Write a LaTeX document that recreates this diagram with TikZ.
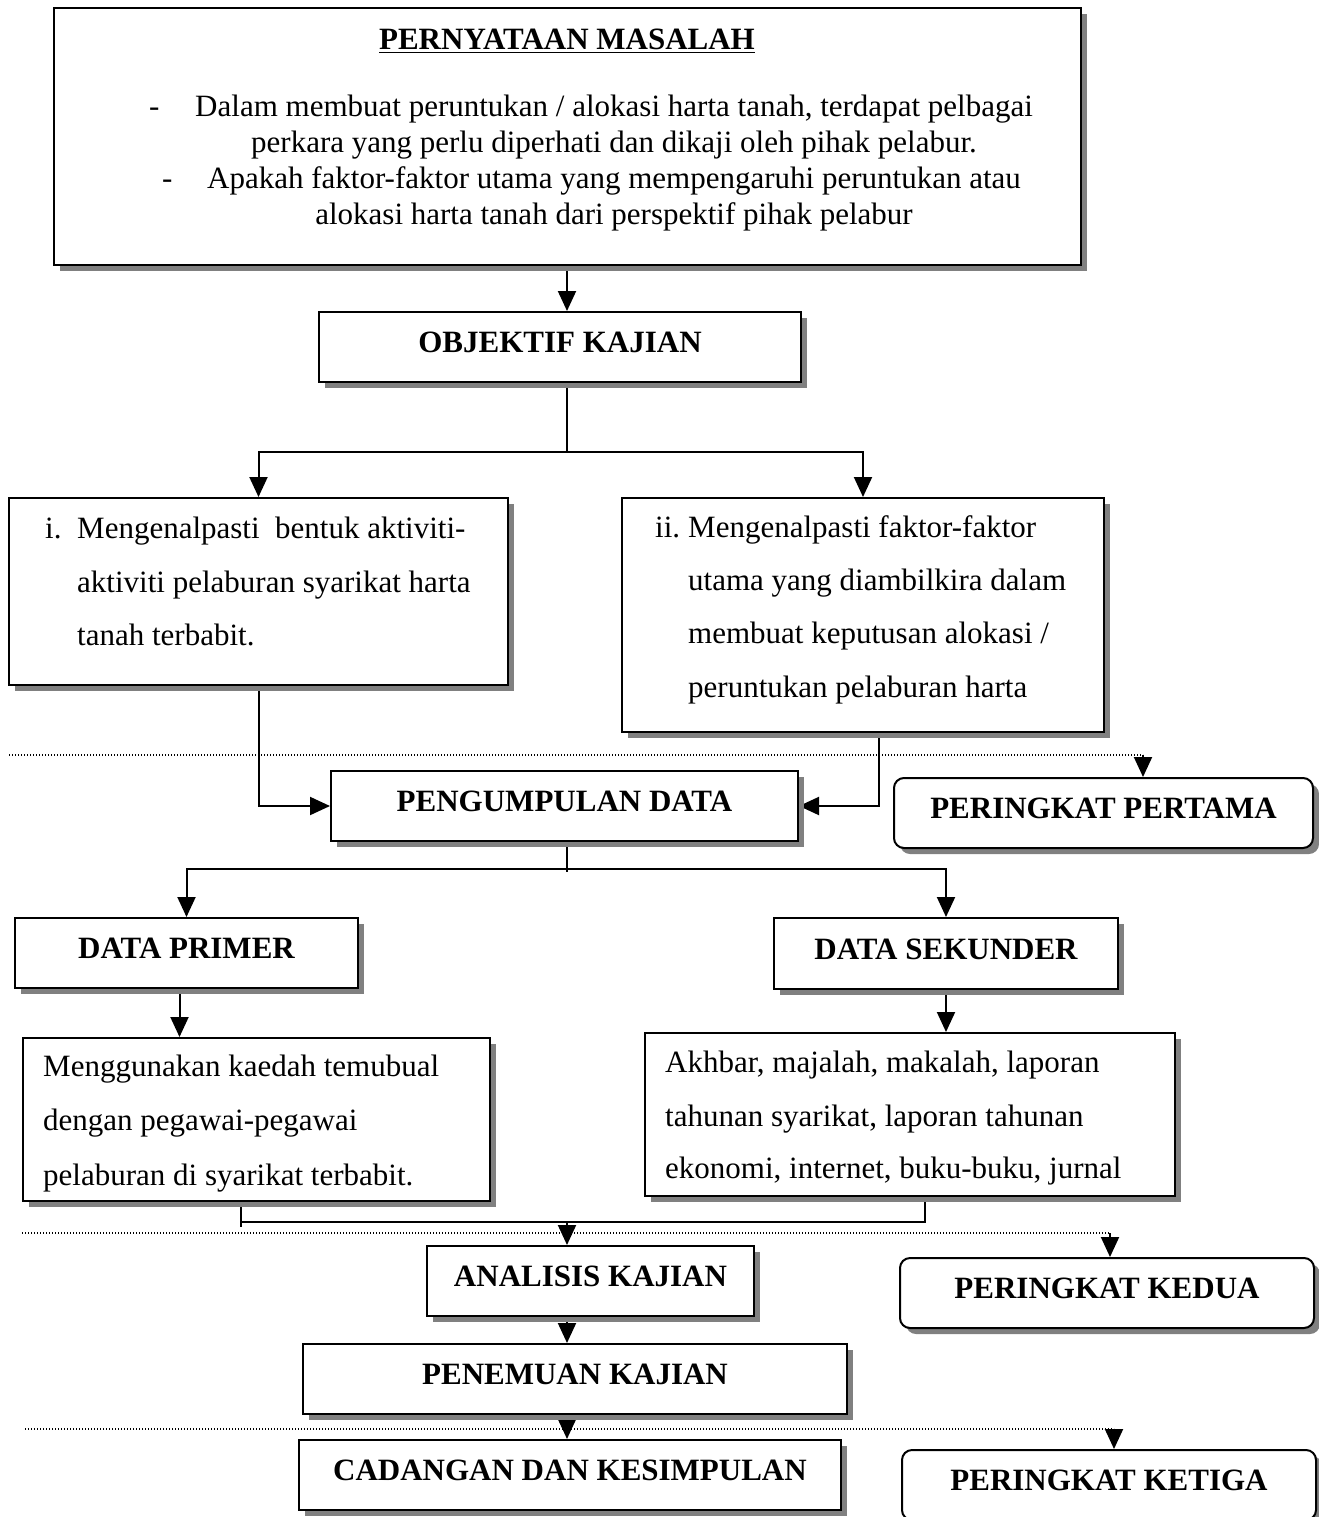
\documentclass[tikz,border=0pt]{standalone}
\usepackage{fontspec}
\setmainfont{Liberation Serif}
\usetikzlibrary{arrows.meta,shadows,backgrounds,calc}

\begin{document}
\begin{tikzpicture}[x=1pt,y=-1pt,
  every node/.style={inner sep=0pt},
  shbox/.style={draw, line width=2pt, fill=white,
    drop shadow={shadow xshift=6pt, shadow yshift=-6pt, opacity=1, fill=black!50}},
  hbox/.style={shbox, font=\bfseries\fontsize{31}{36}\selectfont, text height=21pt, text depth=10pt},
  rbox/.style={hbox, rounded corners=10pt},
  body/.style={font=\fontsize{31}{36}\selectfont, anchor=base west},
  bodyc/.style={font=\fontsize{31}{36}\selectfont, anchor=base},
  conn/.style={line width=2pt},
  arr/.style={conn, -{Triangle[width=18pt,length=20pt]}},
  dots/.style={line width=1.2pt, dash pattern=on 1.2pt off 1.8pt},
]
\useasboundingbox (0,0) rectangle (1319,1517);

% ---- boxes ----
\node[shbox, minimum width=1027pt, minimum height=257pt] (b1) at (567.5,136.5) {};
\node[font=\bfseries\fontsize{31}{36}\selectfont, anchor=base] (title) at (567,50) {\underline{PERNYATAAN MASALAH}};
\node[body] (d1) at (149,117) {-};
\node[bodyc] (l1) at (614,117) {Dalam membuat peruntukan / alokasi harta tanah, terdapat pelbagai};
\node[bodyc] (l2) at (614,153) {perkara yang perlu diperhati dan dikaji oleh pihak pelabur.};
\node[body] (d2) at (162,189) {-};
\node[bodyc] (l3) at (614,189) {Apakah faktor-faktor utama yang mempengaruhi peruntukan atau};
\node[bodyc] (l4) at (614,225) {alokasi harta tanah dari perspektif pihak pelabur};

\node[hbox, minimum width=482pt, minimum height=70pt] (obj) at (560,347) {OBJEKTIF KAJIAN};

\node[shbox, minimum width=499pt, minimum height=187pt] (bi) at (258.5,591.5) {};
\node[body] (bi0) at (45,538) {i.};
\node[body] (bi1) at (77,538) {Mengenalpasti\ \ bentuk aktiviti-};
\node[body] (bi2) at (77,592) {aktiviti pelaburan syarikat harta};
\node[body] (bi3) at (77,645) {tanah terbabit.};

\node[shbox, minimum width=482pt, minimum height=234pt] (bii) at (863,615) {};
\node[body] (bii0) at (655,537) {ii.};
\node[body] (bii1) at (688,537) {Mengenalpasti faktor-faktor};
\node[body] (bii2) at (688,590) {utama yang diambilkira dalam};
\node[body] (bii3) at (688,643) {membuat keputusan alokasi /};
\node[body] (bii4) at (688,697) {peruntukan pelaburan harta};

\node[hbox, minimum width=467pt, minimum height=70pt] (peng) at (564.5,806) {PENGUMPULAN DATA};
\node[rbox, minimum width=419pt, minimum height=70pt] (pert) at (1103.5,813) {PERINGKAT PERTAMA};

\node[hbox, minimum width=343pt, minimum height=70pt] (prim) at (186.5,953) {DATA PRIMER};
\node[hbox, minimum width=344pt, minimum height=71pt] (sek) at (946,953.5) {DATA SEKUNDER};

\node[shbox, minimum width=467pt, minimum height=163pt] (pt) at (256.5,1119.5) {};
\node[body] (pt1) at (43,1076) {Menggunakan kaedah temubual};
\node[body] (pt2) at (43,1130) {dengan pegawai-pegawai};
\node[body] (pt3) at (43,1185) {pelaburan di syarikat terbabit.};

\node[shbox, minimum width=530pt, minimum height=163pt] (st) at (910,1114.5) {};
\node[body] (st1) at (665,1072) {Akhbar, majalah, makalah, laporan};
\node[body] (st2) at (665,1126) {tahunan syarikat, laporan tahunan};
\node[body] (st3) at (665,1178) {ekonomi, internet, buku-buku, jurnal};

\node[hbox, minimum width=327pt, minimum height=70pt] (ana) at (590.5,1281) {ANALISIS KAJIAN};
\node[rbox, minimum width=414pt, minimum height=70pt] (ked) at (1107,1293) {PERINGKAT KEDUA};
\node[hbox, minimum width=544pt, minimum height=70pt] (pen) at (575,1379) {PENEMUAN KAJIAN};
\node[hbox, minimum width=542pt, minimum height=70pt] (cad) at (570,1475) {CADANGAN DAN KESIMPULAN};
\node[rbox, minimum width=414pt, minimum height=70pt] (ket) at (1109,1485) {PERINGKAT KETIGA};

% ---- junctions ----
\coordinate (j1) at (567,452);
\coordinate (j2) at (567,869);
\coordinate (j3) at (567,1222);
\coordinate (d1s) at (9,755);   \coordinate (d1e) at (1143,755);
\coordinate (d2s) at (22,1233); \coordinate (d2e) at (1110,1233);
\coordinate (d3s) at (25,1429); \coordinate (d3e) at (1114,1429);

% ---- connectors ----
\begin{pgfonlayer}{background}
\draw[arr] (b1.south -| j1) -- (obj.north -| j1);
\draw[conn] (obj.south -| j1) -- (j1);
\draw[arr] (j1) -| (bi.north);
\draw[arr] (j1) -| (bii.north);
\draw[arr] (bi.south) |- (peng.west);
\draw[arr] ([xshift=16pt]bii.south) |- (peng.east);
\draw[dots] (d1s) -- (d1e);
\draw[arr] (d1e) -- (d1e |- pert.north);
\draw[conn] (peng.south -| j2) -- ([yshift=-3pt]j2);
\draw[arr] (j2) -| (prim.north);
\draw[arr] (j2) -| (sek.north);
\draw[arr] ([xshift=-7pt]prim.south) -- ([xshift=-7pt]prim.south |- pt.north);
\draw[arr] (sek.south) -- (sek.south |- st.north);
\draw[conn] ([xshift=-15.5pt]pt.south) -- ([xshift=-15.5pt,yshift=-5pt]pt.south |- j3);
\draw[conn] ([xshift=-15.5pt]pt.south |- j3) -- ([xshift=15pt]st.south |- j3) -- ([xshift=15pt]st.south);
\draw[arr] (j3) -- (j3 |- ana.north);
\draw[dots] (d2s) -- (d2e);
\draw[arr] (d2e) -- (d2e |- ked.north);
\draw[arr] (ana.south -| j3) -- (pen.north -| j3);
\draw[dots] (d3s) -- (d3e);
\draw[arr] (d3e) -- (d3e |- ket.north);
\draw[arr] (pen.south -| j3) -- (cad.north -| j3);
\end{pgfonlayer}
\end{tikzpicture}
\end{document}
